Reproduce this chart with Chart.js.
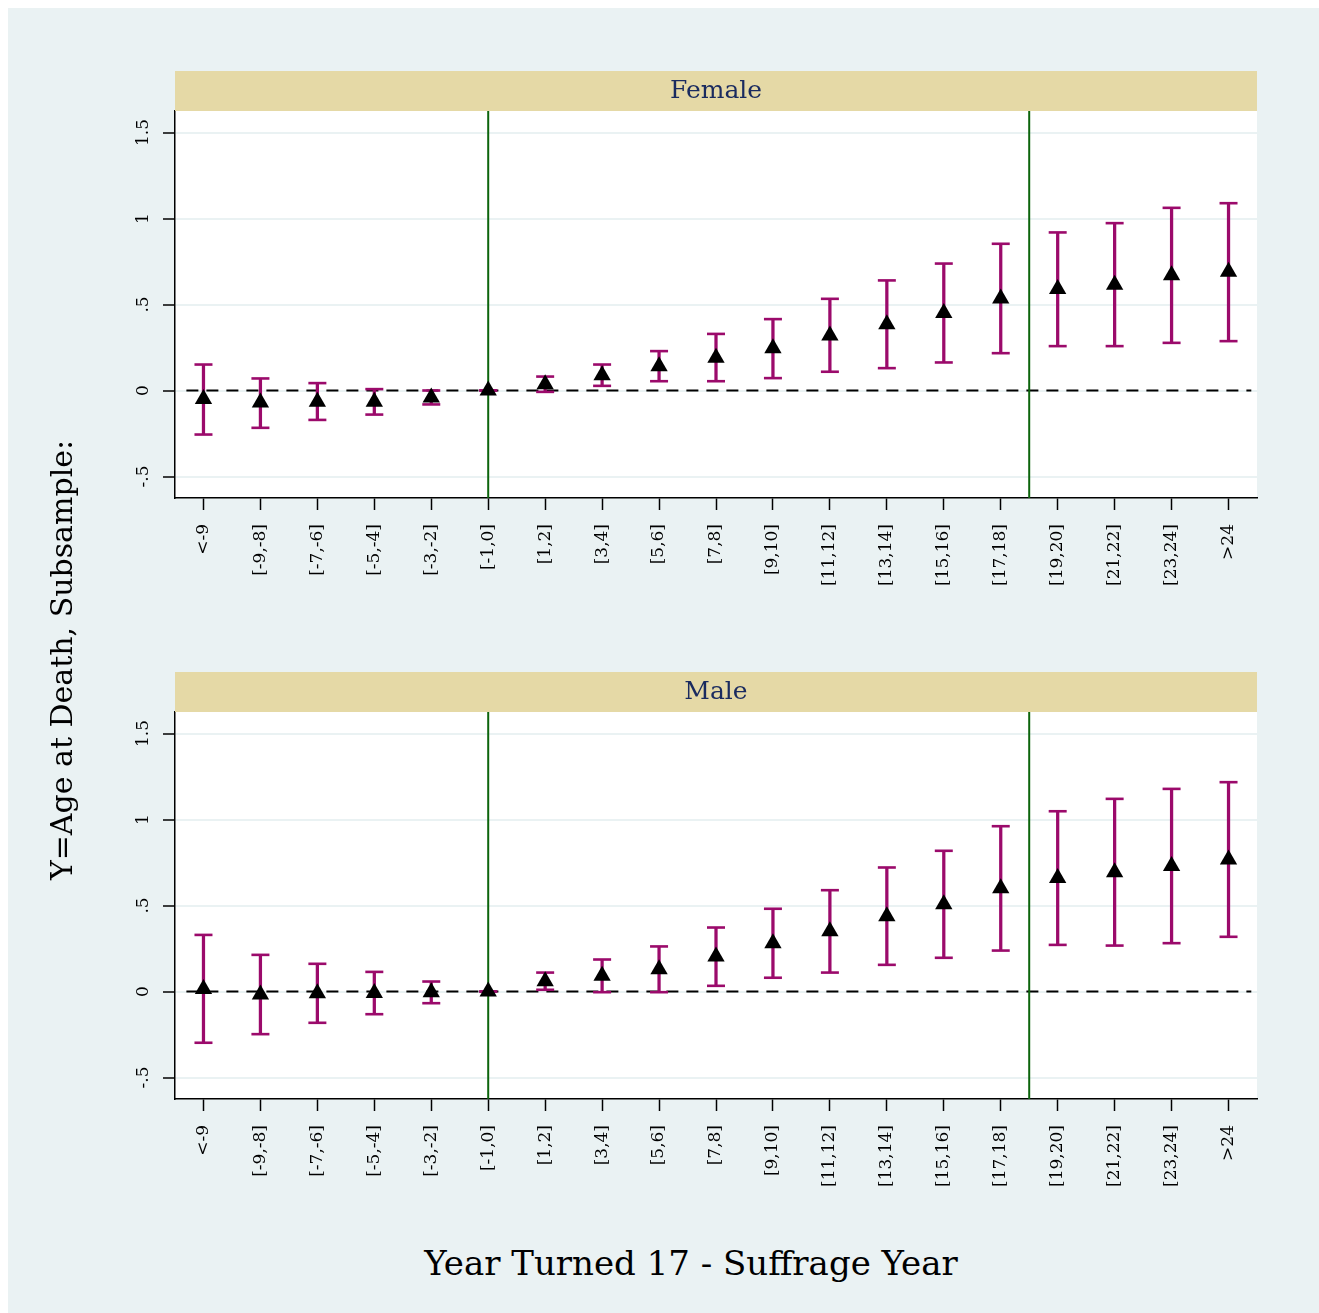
<!DOCTYPE html>
<html>
<head>
<meta charset="utf-8">
<title>Age at death by subsample</title>
<script src="https://cdn.jsdelivr.net/npm/chart.js@4.4.0/dist/chart.umd.min.js"></script>
<style>
  html, body { margin: 0; padding: 0; background: #fff; }
  body { width: 1319px; height: 1313px; position: relative; overflow: hidden; font-family: 'DejaVu Serif', serif; }
  #frame { position: absolute; left: 8px; top: 8px; width: 1311px; height: 1305px; background: #EAF2F3; }
  canvas { position: absolute; left: 0; }
  #xtitle { position: absolute; left: 341px; top: 1243px; width: 700px; height: 40px; line-height: 40px;
            text-align: center; font-size: 34px; color: #000; }
  #ytitle { position: absolute; left: -238px; top: 640px; width: 600px; height: 40px; line-height: 40px;
            text-align: center; font-size: 30px; color: #000; transform: rotate(-90deg); }
</style>
</head>
<body>
<div id="frame"></div>
<canvas id="female" width="1319" height="560" style="top:60px"></canvas>
<canvas id="male" width="1319" height="560" style="top:661px"></canvas>
<div id="xtitle">Year Turned 17 - Suffrage Year</div>
<div id="ytitle">Y=Age at Death, Subsample:</div>
<script>
// categories (x axis)
const categories = ['<-9', '[-9,-8]', '[-7,-6]', '[-5,-4]', '[-3,-2]', '[-1,0]', '[1,2]', '[3,4]', '[5,6]',
  '[7,8]', '[9,10]', '[11,12]', '[13,14]', '[15,16]', '[17,18]', '[19,20]', '[21,22]', '[23,24]', '>24'];

// y ticks
const yTicks = [-0.5, 0, 0.5, 1, 1.5];
const yTickLabels = ['-.5', '0', '.5', '1', '1.5'];
const yRange = [-0.625, 1.625];

// vertical reference lines (category index) and horizontal zero line
const refLines = [5, 14.5];
const zeroLine = 0;

// Female
const femaleEst = [-0.05, -0.07, -0.065, -0.065, -0.04, 0, 0.037, 0.089, 0.141, 0.19, 0.245, 0.32, 0.385, 0.45, 0.535, 0.59, 0.615, 0.67, 0.69];
const femaleLo  = [-0.256, -0.217, -0.171, -0.14, -0.081, 0, -0.008, 0.027, 0.054, 0.054, 0.072, 0.109, 0.13, 0.163, 0.217, 0.258, 0.258, 0.277, 0.287];
const femaleHi  = [0.151, 0.07, 0.043, 0.008, 0.0, 0, 0.081, 0.151, 0.229, 0.329, 0.415, 0.533, 0.64, 0.738, 0.853, 0.919, 0.973, 1.062, 1.089];

// Male
const maleEst = [0.015, -0.017, -0.01, -0.009, -0.005, 0, 0.06, 0.091, 0.129, 0.203, 0.28, 0.35, 0.438, 0.507, 0.6, 0.66, 0.694, 0.73, 0.767];
const maleLo  = [-0.298, -0.248, -0.182, -0.132, -0.068, 0, 0.01, -0.004, -0.004, 0.033, 0.08, 0.11, 0.155, 0.196, 0.238, 0.271, 0.267, 0.281, 0.318];
const maleHi  = [0.329, 0.213, 0.161, 0.114, 0.058, 0, 0.11, 0.186, 0.262, 0.372, 0.481, 0.589, 0.721, 0.818, 0.961, 1.048, 1.12, 1.178, 1.217];

const FONT = 'DejaVu Serif';
const CI_COLOR = '#9b0a6b';
const REF_COLOR = '#0c640c';

// white plot region
const plotBg = {
  id: 'plotBg',
  beforeDraw(chart) {
    const a = chart.chartArea, ctx = chart.ctx;
    ctx.save();
    ctx.fillStyle = '#fff';
    ctx.fillRect(a.left, a.top, a.right - a.left, a.bottom - a.top);
    ctx.restore();
  }
};

// strip above each panel
const panelHeader = {
  id: 'panelHeader',
  afterDraw(chart, args, opts) {
    const a = chart.chartArea, ctx = chart.ctx;
    ctx.save();
    ctx.fillStyle = '#E5D9A6';
    ctx.fillRect(a.left, a.top - 40, a.right - a.left, 40);
    ctx.fillStyle = '#1a2b5f';
    ctx.font = '25px "' + FONT + '"';
    ctx.textAlign = 'center';
    ctx.textBaseline = 'middle';
    ctx.fillText(opts.text, (a.left + a.right) / 2, a.top - 20);
    ctx.restore();
  }
};

function makePanel(id, title, est, lo, hi) {
  const pts = arr => arr.map((v, i) => ({ x: i, y: v }));
  const datasets = [
    {
      type: 'scatter', data: pts(est), order: 0,
      pointStyle: 'triangle', pointRadius: 10, pointBackgroundColor: '#000',
      pointBorderColor: '#000', pointBorderWidth: 0, backgroundColor: '#000', borderColor: '#000'
    },
    {
      type: 'scatter', data: pts(lo).concat(pts(hi)), order: 1,
      pointStyle: 'line', pointRadius: 9, pointBorderColor: CI_COLOR, borderColor: CI_COLOR,
      pointBorderWidth: 2.6, borderWidth: 2.6
    },
    {
      type: 'bar', data: lo.map((v, i) => ({ x: i, y: [v, hi[i]] })), order: 2,
      backgroundColor: CI_COLOR, borderWidth: 0, barThickness: 2.6
    },
    ...refLines.map(r => ({
      type: 'line', data: [{ x: r, y: yRange[0] }, { x: r, y: yRange[1] }], order: 3,
      borderColor: REF_COLOR, borderWidth: 2, pointRadius: 0
    })),
    {
      type: 'line', data: [{ x: -0.3, y: zeroLine }, { x: categories.length - 0.6, y: zeroLine }], order: 4,
      borderColor: '#000', borderWidth: 2, borderDash: [12, 8], pointRadius: 0
    }
  ];

  new Chart(document.getElementById(id), {
    type: 'scatter',
    data: { datasets },
    plugins: [plotBg, panelHeader],
    options: {
      responsive: false,
      animation: false,
      layout: { autoPadding: false, padding: { left: 100, right: 62, top: 51, bottom: 22 } },
      plugins: {
        legend: { display: false },
        tooltip: { enabled: false },
        panelHeader: { text: title }
      },
      scales: {
        x: {
          type: 'linear',
          offset: false,
          min: -0.5,
          max: categories.length - 0.5,
          afterBuildTicks: s => { s.ticks = categories.map((c, i) => ({ value: i })); },
          afterFit: s => { s.height = 100; },
          grid: { offset: false, drawOnChartArea: false, drawTicks: true, tickLength: 12, tickColor: '#000', tickWidth: 1.5 },
          border: { color: '#000', width: 1.5 },
          ticks: {
            autoSkip: false, minRotation: 90, maxRotation: 90, padding: 14, color: '#000',
            font: { family: FONT, size: 17 },
            callback: v => categories[v]
          }
        },
        y: {
          type: 'linear',
          min: yRange[0],
          max: yRange[1],
          afterBuildTicks: s => { s.ticks = yTicks.map(v => ({ value: v })); },
          afterFit: s => { s.width = 75; },
          grid: { color: '#EAF2F3', lineWidth: 2, tickLength: 12, tickColor: '#000', tickWidth: 1.5 },
          border: { color: '#000', width: 1.5 },
          ticks: {
            minRotation: 90, maxRotation: 90, crossAlign: 'center', padding: 6, color: '#000',
            font: { family: FONT, size: 17 },
            callback: v => yTickLabels[yTicks.indexOf(v)]
          }
        }
      }
    }
  });
}

makePanel('female', 'Female', femaleEst, femaleLo, femaleHi);
makePanel('male', 'Male', maleEst, maleLo, maleHi);
</script>
</body>
</html>
